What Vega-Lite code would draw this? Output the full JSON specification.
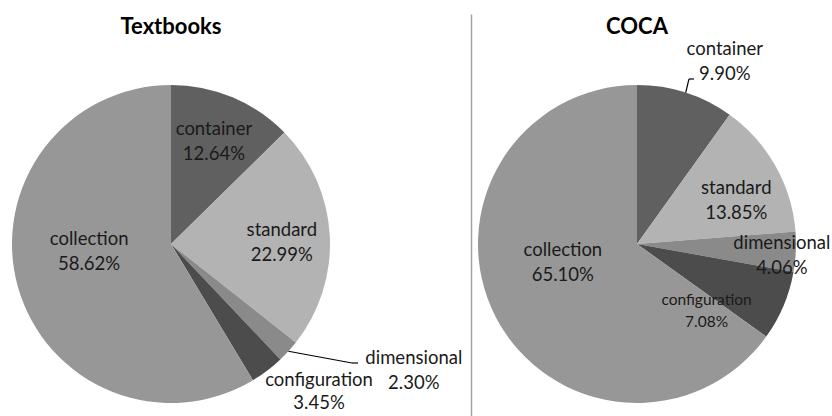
{
  "$schema": "https://vega.github.io/schema/vega-lite/v6.json",
  "padding": {"left": 0, "top": 14, "right": 0, "bottom": 0},
  "autosize": {"type": "pad"},
  "config": {
    "view": {"stroke": null},
    "font": "Lato",
    "title": {"frame": "group", "anchor": "middle", "offset": -25, "baseline": "alphabetic", "font": "Lato", "fontSize": 22, "fontWeight": "bold", "color": "#000000"},
    "text": {"font": "Lato", "fontSize": 18.5, "color": "#1a1a1a", "lineBreak": "\n", "lineHeight": 25, "align": "center", "baseline": "middle"}
  },
  "datasets": {
    "shares": [
      {"source": "Textbooks", "category": "container", "share": 0.1264},
      {"source": "Textbooks", "category": "standard", "share": 0.2299},
      {"source": "Textbooks", "category": "dimensional", "share": 0.0230},
      {"source": "Textbooks", "category": "configuration", "share": 0.0345},
      {"source": "Textbooks", "category": "collection", "share": 0.5862},
      {"source": "COCA", "category": "container", "share": 0.0990},
      {"source": "COCA", "category": "standard", "share": 0.1385},
      {"source": "COCA", "category": "dimensional", "share": 0.0406},
      {"source": "COCA", "category": "configuration", "share": 0.0708},
      {"source": "COCA", "category": "collection", "share": 0.6510}
    ]
  },
  "bounds": "flush",
  "spacing": 129,
  "hconcat": [
    {
      "title": "Textbooks",
      "width": 342,
      "height": 460,
      "data": {"name": "shares"},
      "transform": [
        {"filter": "datum.source === 'Textbooks'"},
        {"window": [{"op": "row_number", "as": "idx"}]},
        {"window": [{"op": "sum", "field": "share", "as": "cum"}], "sort": [{"field": "idx"}], "frame": [null, 0]},
        {"calculate": "datum.category + '\\n' + format(datum.share, '.2%')", "as": "label"}
      ],
      "layer": [
        {
          "mark": {"type": "arc", "outerRadius": 159},
          "encoding": {
            "theta": {"field": "share", "type": "quantitative", "stack": true},
            "order": {"field": "idx", "type": "quantitative"},
            "color": {
              "field": "category", "type": "nominal", "legend": null,
              "scale": {"domain": ["container", "standard", "dimensional", "configuration", "collection"], "range": ["#606060", "#b3b3b3", "#8a8a8a", "#4c4c4c", "#979797"]}
            }
          }
        },
        {
          "mark": {"type": "text", "radius": 111, "dy": -12.5},
          "encoding": {
            "theta": {"field": "share", "type": "quantitative", "stack": true},
            "order": {"field": "idx", "type": "quantitative"},
            "text": {"condition": {"test": "datum.category === 'container'", "field": "label", "type": "nominal"}, "value": ""}
          }
        },
        {
          "mark": {"type": "text", "radius": 111, "dy": -7.5},
          "encoding": {
            "theta": {"field": "share", "type": "quantitative", "stack": true},
            "order": {"field": "idx", "type": "quantitative"},
            "text": {"condition": {"test": "datum.category === 'standard'", "field": "label", "type": "nominal"}, "value": ""}
          }
        },
        {
          "mark": {"type": "text", "radius": 85, "dy": -27.5},
          "encoding": {
            "theta": {"field": "share", "type": "quantitative", "stack": true},
            "order": {"field": "idx", "type": "quantitative"},
            "text": {"condition": {"test": "datum.category === 'collection'", "field": "label", "type": "nominal"}, "value": ""}
          }
        },
        {
          "mark": {"type": "text", "radius": 188, "dx": 104, "dy": -12.5},
          "encoding": {
            "theta": {"field": "share", "type": "quantitative", "stack": true},
            "order": {"field": "idx", "type": "quantitative"},
            "text": {"condition": {"test": "datum.category === 'dimensional'", "field": "label", "type": "nominal"}, "value": ""}
          }
        },
        {
          "mark": {"type": "text", "radius": 195, "dx": 30, "dy": -19, "lineHeight": 23},
          "encoding": {
            "theta": {"field": "share", "type": "quantitative", "stack": true},
            "order": {"field": "idx", "type": "quantitative"},
            "text": {"condition": {"test": "datum.category === 'configuration'", "field": "label", "type": "nominal"}, "value": ""}
          }
        },
        {
          "transform": [
            {"filter": "datum.category === 'dimensional'"},
            {"calculate": "2 * PI * (datum.cum - datum.share / 2)", "as": "mid"},
            {"calculate": "159 * sin(datum.mid)", "as": "rimX"},
            {"calculate": "-159 * cos(datum.mid)", "as": "rimY"}
          ],
          "mark": {"type": "rule", "color": "#000000", "strokeWidth": 1.2},
          "encoding": {
            "x": {"field": "rimX", "type": "quantitative", "scale": {"domain": [-171, 171], "nice": false, "zero": false}, "axis": null},
            "y": {"field": "rimY", "type": "quantitative", "scale": {"domain": [-230, 230], "reverse": true, "nice": false, "zero": false}, "axis": null},
            "x2": {"datum": 181},
            "y2": {"datum": 119}
          }
        },
        {
          "transform": [{"filter": "datum.category === 'dimensional'"}],
          "mark": {"type": "rule", "color": "#000000", "strokeWidth": 1.2},
          "encoding": {
            "x": {"datum": 181, "type": "quantitative", "axis": null},
            "x2": {"datum": 187},
            "y": {"datum": 119, "type": "quantitative", "axis": null}
          }
        }
      ]
    },
    {
      "title": "COCA",
      "width": 332,
      "height": 460,
      "data": {"name": "shares"},
      "transform": [
        {"filter": "datum.source === 'COCA'"},
        {"window": [{"op": "row_number", "as": "idx"}]},
        {"window": [{"op": "sum", "field": "share", "as": "cum"}], "sort": [{"field": "idx"}], "frame": [null, 0]},
        {"calculate": "datum.category + '\\n' + format(datum.share, '.2%')", "as": "label"}
      ],
      "layer": [
        {
          "mark": {"type": "arc", "outerRadius": 159},
          "encoding": {
            "theta": {"field": "share", "type": "quantitative", "stack": true},
            "order": {"field": "idx", "type": "quantitative"},
            "color": {
              "field": "category", "type": "nominal", "legend": null,
              "scale": {"domain": ["container", "standard", "dimensional", "configuration", "collection"], "range": ["#606060", "#b3b3b3", "#8a8a8a", "#4c4c4c", "#979797"]}
            }
          }
        },
        {
          "mark": {"type": "text", "radius": 192, "dx": 29, "dy": -12.5},
          "encoding": {
            "theta": {"field": "share", "type": "quantitative", "stack": true},
            "order": {"field": "idx", "type": "quantitative"},
            "text": {"condition": {"test": "datum.category === 'container'", "field": "label", "type": "nominal"}, "value": ""}
          }
        },
        {
          "mark": {"type": "text", "radius": 114, "dy": 0.5},
          "encoding": {
            "theta": {"field": "share", "type": "quantitative", "stack": true},
            "order": {"field": "idx", "type": "quantitative"},
            "text": {"condition": {"test": "datum.category === 'standard'", "field": "label", "type": "nominal"}, "value": ""}
          }
        },
        {
          "mark": {"type": "text", "radius": 145, "dy": -8.5},
          "encoding": {
            "theta": {"field": "share", "type": "quantitative", "stack": true},
            "order": {"field": "idx", "type": "quantitative"},
            "text": {"condition": {"test": "datum.category === 'dimensional'", "field": "label", "type": "nominal"}, "value": ""}
          }
        },
        {
          "mark": {"type": "text", "radius": 95, "dx": -18, "dy": 19, "fontSize": 15.5, "lineHeight": 22},
          "encoding": {
            "theta": {"field": "share", "type": "quantitative", "stack": true},
            "order": {"field": "idx", "type": "quantitative"},
            "text": {"condition": {"test": "datum.category === 'configuration'", "field": "label", "type": "nominal"}, "value": ""}
          }
        },
        {
          "mark": {"type": "text", "radius": 80, "dx": -3, "dy": -30.5},
          "encoding": {
            "theta": {"field": "share", "type": "quantitative", "stack": true},
            "order": {"field": "idx", "type": "quantitative"},
            "text": {"condition": {"test": "datum.category === 'collection'", "field": "label", "type": "nominal"}, "value": ""}
          }
        },
        {
          "transform": [
            {"filter": "datum.category === 'container'"},
            {"calculate": "2 * PI * (datum.cum - datum.share / 2)", "as": "mid"},
            {"calculate": "159 * sin(datum.mid)", "as": "rimX"},
            {"calculate": "-159 * cos(datum.mid)", "as": "rimY"}
          ],
          "mark": {"type": "rule", "color": "#000000", "strokeWidth": 1.2},
          "encoding": {
            "x": {"field": "rimX", "type": "quantitative", "scale": {"domain": [-166, 166], "nice": false, "zero": false}, "axis": null},
            "y": {
              "field": "rimY", "type": "quantitative",
              "scale": {"domain": [-230, 230], "reverse": true, "nice": false, "zero": false},
              "axis": {"orient": "left", "domain": true, "domainColor": "#a3a3a3", "domainWidth": 1.5, "ticks": false, "labels": false, "grid": false, "title": null}
            },
            "x2": {"datum": 52},
            "y2": {"datum": -165}
          }
        },
        {
          "transform": [{"filter": "datum.category === 'container'"}],
          "mark": {"type": "rule", "color": "#000000", "strokeWidth": 1.2},
          "encoding": {
            "x": {"datum": 52, "type": "quantitative", "axis": null},
            "x2": {"datum": 57},
            "y": {
              "datum": -165, "type": "quantitative",
              "axis": {"orient": "left", "domain": true, "domainColor": "#a3a3a3", "domainWidth": 1.5, "ticks": false, "labels": false, "grid": false, "title": null}
            }
          }
        }
      ]
    }
  ]
}
